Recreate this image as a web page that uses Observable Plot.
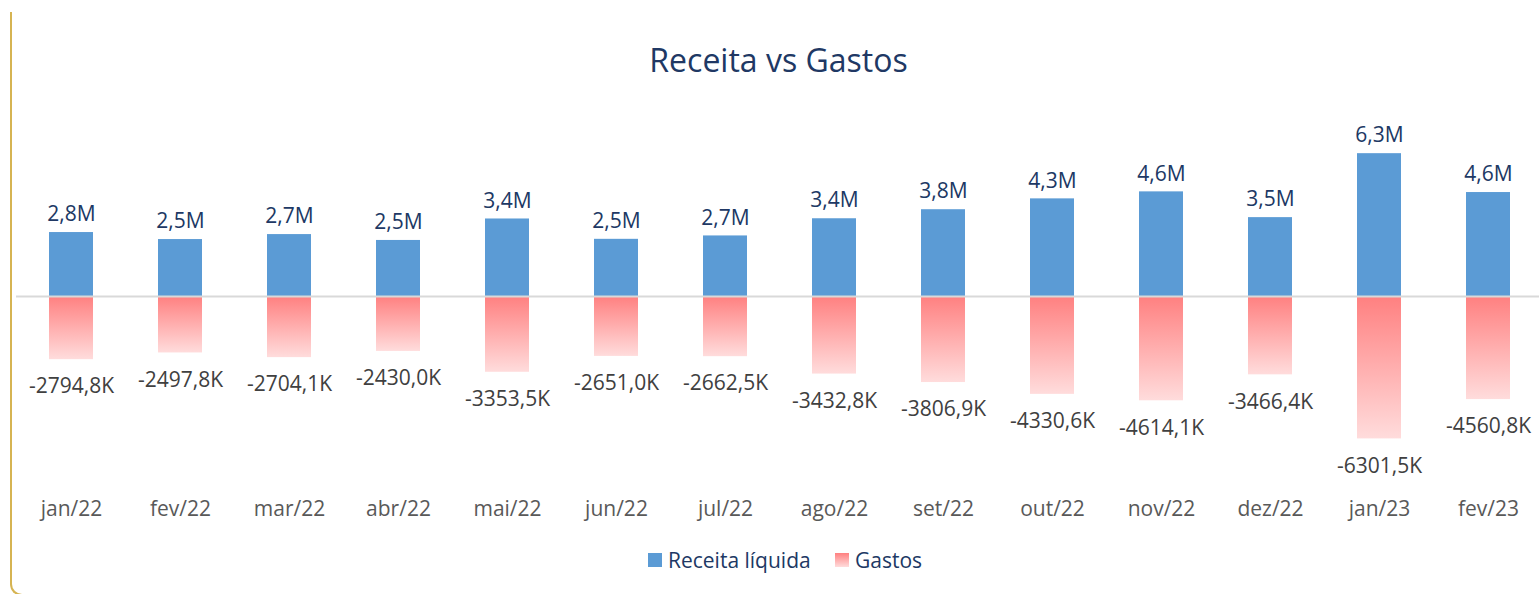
<!DOCTYPE html>
<html>
<head>
<meta charset="utf-8">
<script src="https://cdn.jsdelivr.net/npm/d3@7"></script>
<script src="https://cdn.jsdelivr.net/npm/@observablehq/plot@0.6"></script>
<style>
  body { margin: 0; background: #fff; width: 1539px; height: 594px; overflow: hidden; position: relative; font-family: "Open Sans", Lato, sans-serif; }
  #frame { position: absolute; left: 10px; top: 12px; width: 60px; height: 584px; border-left: 2px solid #d6b452; border-bottom: 2px solid #d6b452; border-bottom-left-radius: 12px; box-sizing: border-box; }
  #title { position: absolute; left: 9px; top: 40px; width: 1539px; text-align: center; font-size: 32px; line-height: 40px; color: #203864; }
  #chart { position: absolute; left: 0; top: 100px; }
  .leg { position: absolute; top: 548px; font-size: 21px; line-height: 24px; color: #203864; white-space: nowrap; }
  .sw { position: absolute; top: 5px; left: 0; width: 14px; height: 14px; }
  .leg span.t { position: absolute; left: 20px; top: 0; }
</style>
</head>
<body>
<div id="frame"></div>
<div id="title">Receita vs Gastos</div>
<div id="chart"></div>
<div class="leg" style="left:648px"><div class="sw" style="background:#5b9bd5"></div><span class="t">Receita líquida</span></div>
<div class="leg" style="left:835px"><div class="sw" style="background:linear-gradient(#ff8080,#ffdcdc)"></div><span class="t">Gastos</span></div>
<script>
const meses = ["jan/22","fev/22","mar/22","abr/22","mai/22","jun/22","jul/22","ago/22","set/22","out/22","nov/22","dez/22","jan/23","fev/23"];
// Receita líquida (milhões)
const receita = [2.83, 2.52, 2.74, 2.48, 3.43, 2.53, 2.68, 3.44, 3.84, 4.32, 4.63, 3.49, 6.32, 4.60];
// Gastos (milhares)
const gastos = [2794.8, 2497.8, 2704.1, 2430.0, 3353.5, 2651.0, 2662.5, 3432.8, 3806.9, 4330.6, 4614.1, 3466.4, 6301.5, 4560.8];

const rows = meses.map((m, i) => ({mes: m, receita: receita[i], gastos: -gastos[i] / 1000, gastosK: gastos[i]}));
const fmtM = v => v.toFixed(1).replace(".", ",") + "M";
const fmtK = v => "-" + v.toFixed(1).replace(".", ",") + "K";

const H = 440, zeroY = 196, pxPerM = 22.6;
const yTop = zeroY - 8 * pxPerM, yBot = zeroY + 8 * pxPerM;

const chart = Plot.plot({
  width: 1539,
  height: H,
  marginLeft: 16,
  marginRight: 0,
  marginTop: yTop,
  marginBottom: H - yBot,
  style: {fontFamily: "'Open Sans', Lato, sans-serif", color: "#595959", background: "transparent"},
  x: {domain: meses, range: [16.5, 1542.5], paddingInner: 0.6, paddingOuter: 0.3, axis: null, label: null},
  y: {domain: [-8, 8], axis: null},
  marks: [
    Plot.barY(rows, {x: "mes", y: "receita", fill: "#5b9bd5"}),
    Plot.barY(rows, {x: "mes", y: "gastos", fill: "url(#gastosGrad)"}),
    Plot.ruleY([0], {stroke: "#d9d9d9", strokeWidth: 2}),
    Plot.text(rows, {x: "mes", y: "receita", text: d => fmtM(d.receita), dy: -18, fontSize: 21, fill: "#203864"}),
    Plot.text(rows, {x: "mes", y: "gastos", text: d => fmtK(d.gastosK), dy: 27, fontSize: 21, fill: "#404040"}),
    Plot.axisX({tickSize: 0, tickPadding: 24, fontSize: 21, fill: "#595959", label: null})
  ]
});

const ns = "http://www.w3.org/2000/svg";
const defs = document.createElementNS(ns, "defs");
const grad = document.createElementNS(ns, "linearGradient");
grad.setAttribute("id", "gastosGrad");
grad.setAttribute("x1", "0"); grad.setAttribute("y1", "0");
grad.setAttribute("x2", "0"); grad.setAttribute("y2", "1");
[["0", "#ff8080"], ["1", "#ffdcdc"]].forEach(([o, c]) => {
  const s = document.createElementNS(ns, "stop");
  s.setAttribute("offset", o); s.setAttribute("stop-color", c);
  grad.appendChild(s);
});
defs.appendChild(grad);
chart.insertBefore(defs, chart.firstChild);
document.getElementById("chart").appendChild(chart);
</script>
</body>
</html>
